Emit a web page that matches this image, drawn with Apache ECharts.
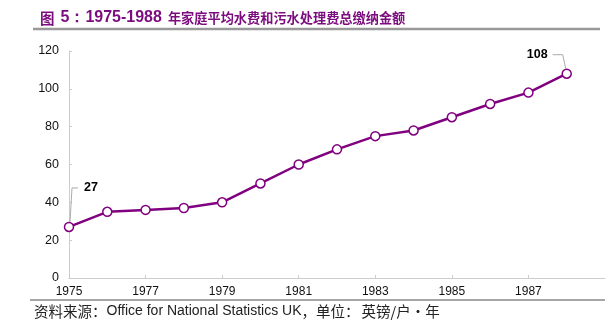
<!DOCTYPE html>
<html><head><meta charset="utf-8">
<script src="https://cdn.jsdelivr.net/npm/echarts@6/dist/echarts.min.js"></script>
<style>html,body{margin:0;padding:0;background:#fff}#c{width:612px;height:330px}</style>
</head><body><div id="c"></div>
<script>
var years = [1975,1976,1977,1978,1979,1980,1981,1982,1983,1984,1985,1986,1987,1988];
var values = [27,35,36,37,40,50,60,68,75,78,85,92,98,108];
var yTicks = [0,20,40,60,80,100,120];
var titleParts = ['图', '5：1975-1988', '年家庭平均水费和污水处理费总缴纳金额'];
var sourceParts = ['资料来源：', 'Office for National Statistics UK', '，单位：', '英镑/户·年'];
var purple = '#800080';
var titleColor = '#7B0C7E';
var chart = echarts.init(document.getElementById('c'), null, {renderer:'canvas'});
chart.setOption({
  animation:false,
  title:{
    text:'{cn|' + titleParts[0] + '}{num|' + titleParts[1] + '}{cn2|' + titleParts[2] + '}',
    left:35, top:5,
    textStyle:{rich:{
      cn:{color:titleColor, fontSize:14.5, fontWeight:'bold', fontFamily:'Noto Sans CJK SC, sans-serif', padding:[0,6,0,0]},
      num:{color:titleColor, fontSize:16, fontWeight:'bold', fontFamily:'Liberation Sans, Arial, sans-serif'},
      cn2:{color:titleColor, fontSize:13.2, fontWeight:'bold', fontFamily:'Noto Sans CJK SC, sans-serif', padding:[0,0,0,6]}
    }}
  },
  graphic:[
    {type:'line', shape:{x1:33,y1:29,x2:600,y2:29}, style:{stroke:'#999', lineWidth:2.5}},
    {type:'line', shape:{x1:30,y1:300,x2:605,y2:300}, style:{stroke:'#888', lineWidth:1.5}},
    {type:'text', left:34, top:304, style:{
      text:'{cn|' + sourceParts[0] + '}{en|' + sourceParts[1] + '}{cn|' + sourceParts[2] + '}{cn3|' + sourceParts[3] + '}',
      rich:{
        cn:{fill:'#222', fontSize:14.5, fontFamily:'Noto Sans CJK SC, sans-serif'},
        en:{fill:'#222', fontSize:14, fontFamily:'Liberation Sans, Arial, sans-serif'},
        cn3:{fill:'#222', fontSize:14.5, fontFamily:'Noto Sans CJK SC, sans-serif', padding:[0,0,0,2]}
      }}}
  ],
  grid:{left:69, right:7, top:51, bottom:52},
  xAxis:{type:'value', min:1975, max:1989, interval:2,
    axisLine:{lineStyle:{color:'#ccc'}}, axisTick:{inside:true, length:3, lineStyle:{color:'#ccc'}},
    splitLine:{show:false},
    axisLabel:{showMaxLabel:false, color:'#111', fontSize:12, fontFamily:'Liberation Sans, Arial, sans-serif', margin:8, formatter:function(v){return String(v);}}},
  yAxis:{type:'value', min:yTicks[0], max:yTicks[yTicks.length-1], interval:20,
    axisLine:{show:true, lineStyle:{color:'#ccc'}}, axisTick:{show:true, inside:true, length:3, lineStyle:{color:'#ccc'}},
    splitLine:{show:false},
    axisLabel:{color:'#111', fontSize:12.5, fontFamily:'Liberation Sans, Arial, sans-serif', margin:10}},
  series:[{type:'line', data:years.map(function(y,i){return [y, values[i]];}), symbol:'circle', symbolSize:9,
    lineStyle:{color:purple, width:2.5}, itemStyle:{color:'#fff', borderColor:purple, borderWidth:1.5},
    label:{show:false}}]
});
// leader-line annotations for the first and last values, positioned via the chart's own scales
var first = chart.convertToPixel({seriesIndex:0}, [years[0], values[0]]);
var lastI = years.length-1;
var last = chart.convertToPixel({seriesIndex:0}, [years[lastI], values[lastI]]);
var lblFont = 'bold 12.5px "Liberation Sans", Arial, sans-serif';
var g = chart.getOption().graphic[0].elements.slice();
g.push(
  {type:'polyline', z:1, shape:{points:[[first[0]+1, first[1]-5],[first[0]+3, first[1]-39],[first[0]+9, first[1]-39]]}, style:{stroke:'#aaa', fill:null, lineWidth:1}},
  {type:'text', x:first[0]+15, y:first[1]-39, style:{text:String(values[0]), font:lblFont, fill:'#000', textVerticalAlign:'middle', textAlign:'left'}},
  {type:'polyline', z:1, shape:{points:[[last[0]-1, last[1]-5],[last[0]-4, last[1]-19],[last[0]-14, last[1]-19]]}, style:{stroke:'#aaa', fill:null, lineWidth:1}},
  {type:'text', x:last[0]-19, y:last[1]-19, style:{text:String(values[lastI]), font:lblFont, fill:'#000', textVerticalAlign:'middle', textAlign:'right'}}
);
chart.setOption({graphic:g}, {replaceMerge:['graphic']});
</script></body></html>
